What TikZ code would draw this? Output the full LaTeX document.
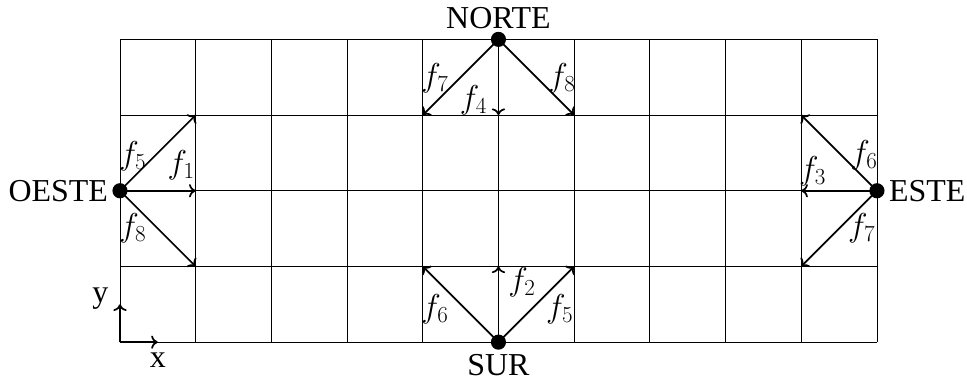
\documentclass[tikz,border=0pt]{standalone}
\usepackage{fontspec}
\setmainfont{Liberation Serif}
\usetikzlibrary{arrows.meta}
\newcommand{\fl}[1]{$f_{#1}$}

\begin{document}
\begin{tikzpicture}[x=2cm,y=2cm,
        font=\fontsize{24}{28}\selectfont,
        cell/.style={line width=0.6pt},
        dot/.style={circle,fill,inner sep=0pt,minimum size=0.4cm},
        vec/.style={line width=1.3pt,-{To[length=5pt,width=10pt]}},
        lbl/.style={inner sep=0pt}]
        \useasboundingbox (-1.585,-0.515) rectangle (11.19,4.52);
        \draw[cell,step=2cm] (0,0) grid (10,4);
        \foreach \i in {0,...,10}
            \foreach \j in {0,...,4}
                \coordinate (g\i-\j) at (\i,\j);
        % puntos cardinales
        \node[dot,label={[lbl,label distance=3pt]left:OESTE}] (oeste) at (g0-2) {};
        \node[dot,label={[lbl,label distance=2pt]above:NORTE}] (norte) at (g5-4) {};
        \node[dot,label={[lbl,label distance=3pt]below:SUR}] (sur) at (g5-0) {};
        \node[dot,label={[lbl,label distance=3pt]right:ESTE}] (este) at (g10-2) {};
        % oeste
        \draw[vec] (oeste.center) -- (g1-3);
        \draw[vec] (oeste.center) -- (g1-2);
        \draw[vec] (oeste.center) -- (g1-1);
        \node[lbl] (f5o) at (0.17,2.45) {\fl{5}};
        \node[lbl] (f1o) at (0.81,2.34) {\fl{1}};
        \node[lbl] (f8o) at (0.17,1.51) {\fl{8}};
        % norte
        \draw[vec] (norte.center) -- (g4-3);
        \draw[vec] (norte.center) -- (g5-3);
        \draw[vec] (norte.center) -- (g6-3);
        \node[lbl] (f7n) at (4.16,3.48) {\fl{7}};
        \node[lbl] (f4n) at (4.67,3.19) {\fl{4}};
        \node[lbl] (f8n) at (5.84,3.49) {\fl{8}};
        % sur
        \draw[vec] (sur.center) -- (g4-1);
        \draw[vec] (sur.center) -- (g5-1);
        \draw[vec] (sur.center) -- (g6-1);
        \node[lbl] (f6s) at (4.16,0.44) {\fl{6}};
        \node[lbl] (f2s) at (5.31,0.79) {\fl{2}};
        \node[lbl] (f5s) at (5.81,0.44) {\fl{5}};
        % este
        \draw[vec] (este.center) -- (g9-3);
        \draw[vec] (este.center) -- (g9-2);
        \draw[vec] (este.center) -- (g9-1);
        \node[lbl] (f6e) at (9.83,2.47) {\fl{6}};
        \node[lbl] (f3e) at (9.15,2.26) {\fl{3}};
        \node[lbl] (f7e) at (9.80,1.51) {\fl{7}};
        % ejes
        \coordinate (ex) at (0.5,0);
        \coordinate (ey) at (0,0.5);
        \draw[vec] (g0-0) -- (ex);
        \draw[vec] (g0-0) -- (ey);
        \node[lbl] (xl) at (0.5,-0.24) {x};
        \node[lbl] (yl) at (-0.26,0.58) {y};
    \end{tikzpicture}
\end{document}
